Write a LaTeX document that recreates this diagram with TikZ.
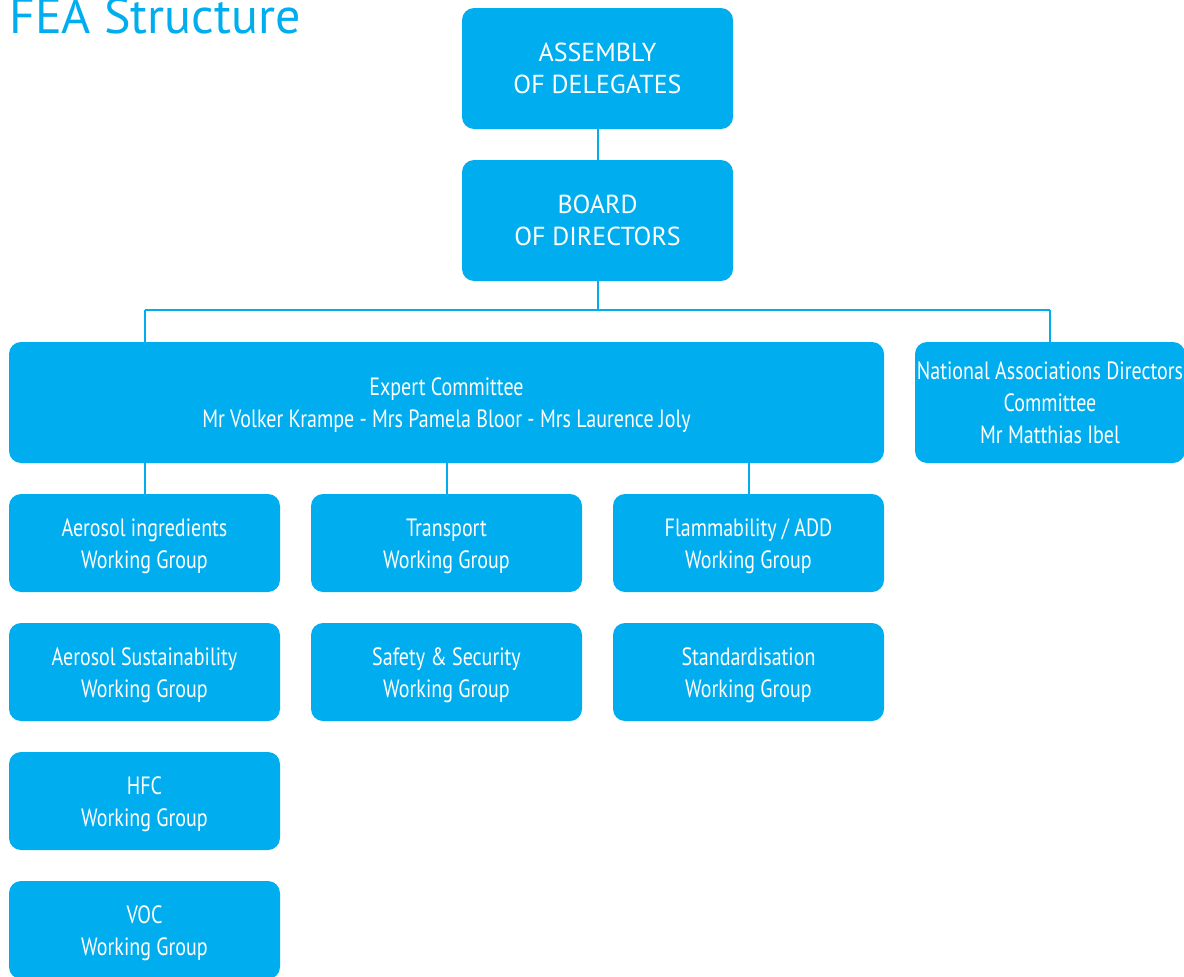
\documentclass[tikz,border=0pt]{standalone}
\usepackage{fontspec}
\setmainfont{PT Sans}
\newfontfamily\condfont[FakeStretch=0.8]{PT Sans}
\definecolor{fea}{RGB}{0,174,239}
\newcommand\hs{\rule{0pt}{25pt}}
\newcommand\ds{\rule[-7pt]{0pt}{7pt}}
\begin{document}
\begin{tikzpicture}[x=1pt,y=-1pt,
  box/.style={fill=fea, rounded corners=12pt, text=white, align=center, inner sep=0pt,
    minimum width=271pt, minimum height=98pt, font=\condfont\fontsize{25}{32}\selectfont},
  capbox/.style={box, minimum height=121pt, font=\fontsize{26}{32}\selectfont},
  conn/.style={draw=fea, line width=2pt}]
\useasboundingbox (0,0) rectangle (1184,977);
\node[anchor=base west, text=fea, inner sep=0pt, font=\fontsize{50}{50}\selectfont] (title) at (9,34) {FEA Structure};
\node[capbox] (asm) at (597.5,68.5) {\hs ASSEMBLY\\OF DELEGATES\ds};
\node[capbox] (brd) at (597.5,220.5) {\hs BOARD\\OF DIRECTORS\ds};
\node[box, minimum width=875pt, minimum height=121pt] (exp) at (446.5,402.5) {\hs Expert Committee\\Mr Volker Krampe - Mrs Pamela Bloor - Mrs Laurence Joly\ds};
\node[box, minimum width=270pt, minimum height=121pt] (nat) at (1050,402.5) {\hs National Associations Directors\\Committee\\Mr Matthias Ibel\ds};
\node[box] (a1) at (144.5,543) {\hs Aerosol ingredients\\Working Group\ds};
\node[box] (a2) at (144.5,672) {\hs Aerosol Sustainability\\Working Group\ds};
\node[box] (a3) at (144.5,801) {\hs HFC\\Working Group\ds};
\node[box] (a4) at (144.5,930) {\hs VOC\\Working Group\ds};
\node[box] (b1) at (446.5,543) {\hs Transport\\Working Group\ds};
\node[box] (b2) at (446.5,672) {\hs Safety \& Security\\Working Group\ds};
\node[box] (c1) at (748.5,543) {\hs Flammability / ADD\\Working Group\ds};
\node[box] (c2) at (748.5,672) {\hs Standardisation\\Working Group\ds};
\coordinate (hl) at (145,310);
\coordinate (hr) at (1050,310);
\draw[conn] (asm.south) -- (brd.north);
\draw[conn] (brd.south) -- (brd.south |- hl);
\draw[conn] (hl) -- (hr);
\draw[conn] (hl) -- (hl |- exp.north);
\draw[conn] (hr) -- (nat.north);
\draw[conn] (a1.north |- exp.south) -- (a1.north);
\draw[conn] (b1.north |- exp.south) -- (b1.north);
\draw[conn] (c1.north |- exp.south) -- (c1.north);
\end{tikzpicture}
\end{document}
